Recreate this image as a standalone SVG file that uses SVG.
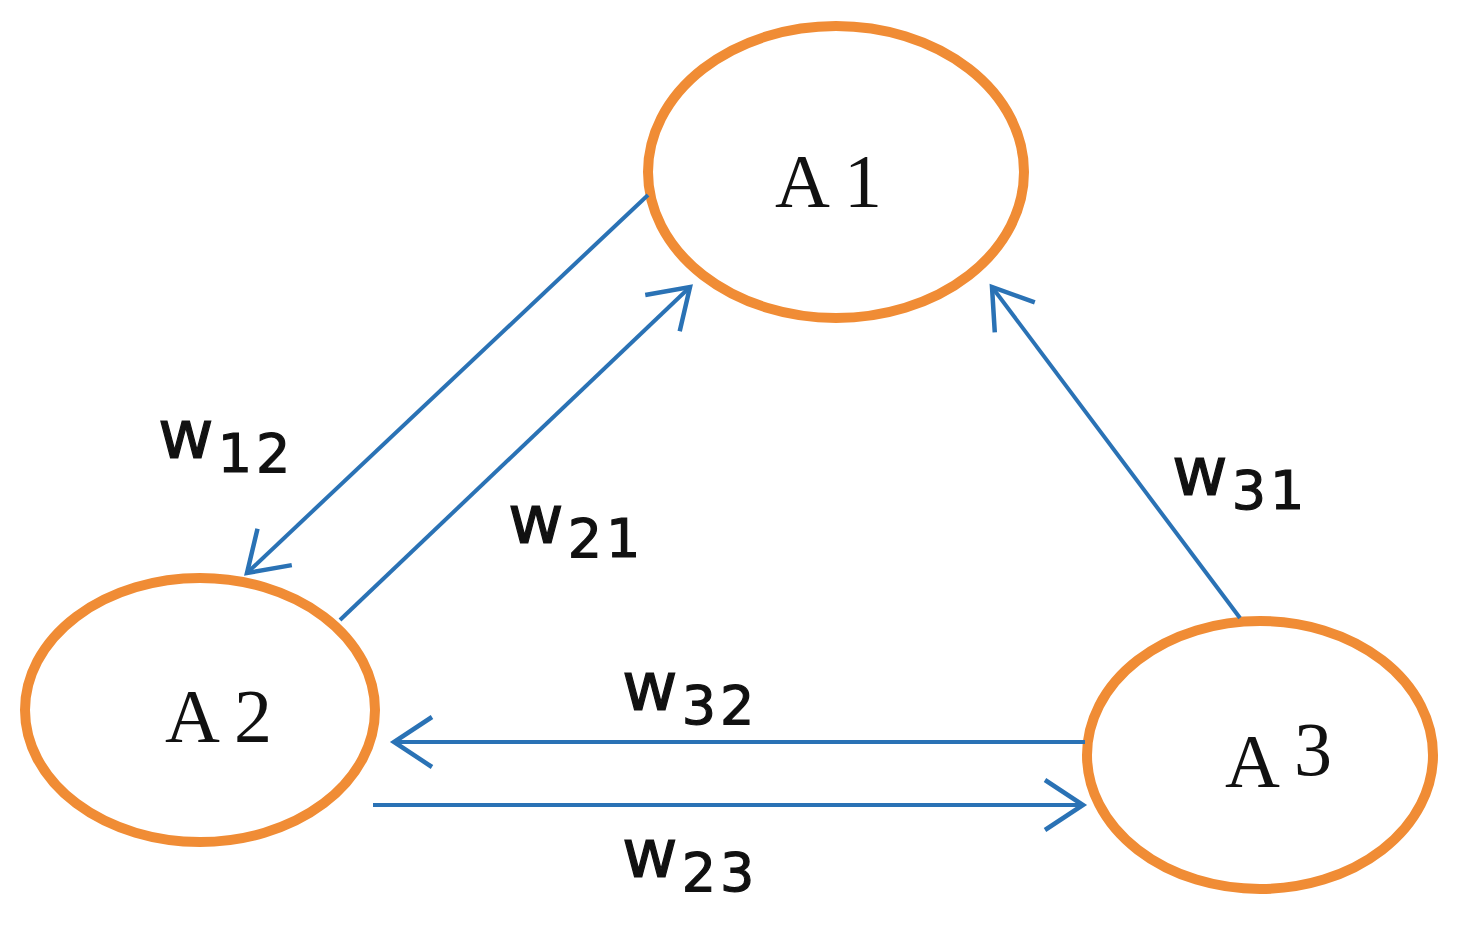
<svg xmlns="http://www.w3.org/2000/svg" width="1458" height="937" viewBox="0 0 1458 937">
<style>
.n{fill:none;stroke:#F08C35;stroke-width:10}
.t{font-family:"Liberation Serif",serif;font-size:76px;fill:#111;letter-spacing:14px}
.c{stroke:#2A72B5;stroke-width:4;fill:none}
.w{font-family:"DejaVu Sans",sans-serif;font-size:68px;fill:#111;stroke:#111;stroke-width:1.2;letter-spacing:4px}
.s{font-size:54px}
</style>
<defs>
<marker id="a" markerUnits="userSpaceOnUse" markerWidth="60" markerHeight="80" refX="48" refY="30" orient="auto" viewBox="0 0 60 60">
<path d="M10,5 L48,30 L10,55" fill="none" stroke="#2A72B5" stroke-width="4.5"/>
</marker>
</defs>
<rect width="1458" height="937" fill="#fff"/>
<g id="A1"><ellipse class="n" cx="836" cy="172" rx="188" ry="146"/><text class="t" x="775" y="207">A1</text></g>
<g id="A2"><ellipse class="n" cx="200" cy="710" rx="175" ry="132"/><text class="t" x="165" y="742">A2</text></g>
<g id="A3"><ellipse class="n" cx="1260" cy="755" rx="173" ry="134"/><text class="t" x="1225" y="787">A<tspan dy="-12">3</tspan></text></g>
<g id="connectors">
<line class="c" x1="648" y1="195" x2="247" y2="573" marker-end="url(#a)"/>
<line class="c" x1="340" y1="620" x2="690" y2="287" marker-end="url(#a)"/>
<line class="c" x1="1240" y1="618" x2="992" y2="287" marker-end="url(#a)"/>
<line class="c" x1="1085" y1="742" x2="394" y2="742" marker-end="url(#a)"/>
<line class="c" x1="373" y1="805" x2="1083" y2="805" marker-end="url(#a)"/>
</g>
<g id="labels">
<text class="w" x="158" y="458">w<tspan class="s" dy="14">12</tspan></text>
<text class="w" x="508" y="543">w<tspan class="s" dy="14">21</tspan></text>
<text class="w" x="1172" y="495">w<tspan class="s" dy="14">31</tspan></text>
<text class="w" x="622" y="710">w<tspan class="s" dy="14">32</tspan></text>
<text class="w" x="622" y="877">w<tspan class="s" dy="14">23</tspan></text>
</g>
</svg>
